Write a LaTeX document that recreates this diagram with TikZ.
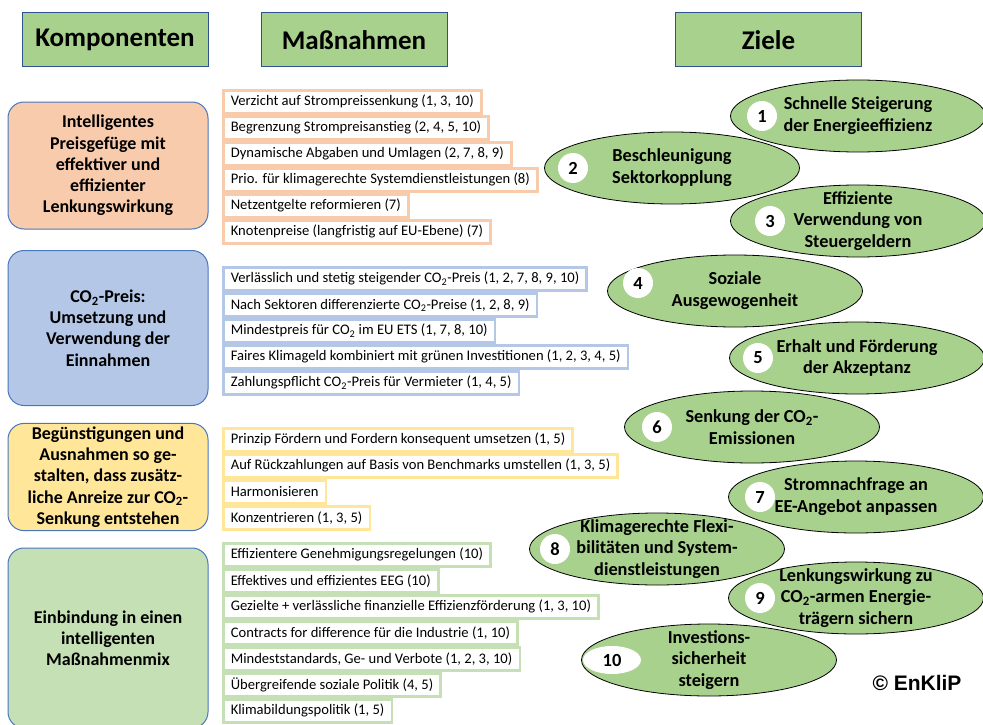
\documentclass[tikz,border=0pt]{standalone}
\usepackage{fontspec}
\setmainfont{Carlito}
\newfontfamily\arialfont{Liberation Sans}
\usetikzlibrary{positioning, shapes.geometric}
\definecolor{hdrgreen}{HTML}{A9D18E}
\definecolor{hdrblue}{HTML}{2F528F}
\definecolor{compblue}{HTML}{4A76BE}
\definecolor{orng}{HTML}{F8CBAD}
\definecolor{lblue}{HTML}{B4C7E7}
\definecolor{yell}{HTML}{FFE699}
\definecolor{lgreen}{HTML}{C5E0B4}
\newcommand{\cotwo}{CO\textsubscript{2}}

\begin{document}
\begin{tikzpicture}[x=1pt, y=-1pt,
  hdr/.style={draw=hdrblue, fill=hdrgreen, line width=1pt, minimum width=186pt,
              minimum height=54pt, font=\fontsize{27}{30}\selectfont\bfseries},
  comp/.style={draw=compblue, rounded corners=16pt, line width=1pt, minimum width=200pt,
               align=center, font=\fontsize{18}{21.2}\selectfont\bfseries},
  mbox/.style={draw=#1, fill=white, line width=2.6pt, outer sep=0pt, anchor=north west,
               minimum height=23pt, inner xsep=7.5pt, inner ysep=0pt,
               font=\fontsize{14.6}{16}\selectfont},
  goal/.style={ellipse, draw, fill=hdrgreen, line width=0.8pt, minimum width=255pt,
               minimum height=72pt, inner sep=0pt},
  goaltxt/.style={align=center, inner sep=0pt, font=\fontsize{18.3}{21.8}\selectfont\bfseries},
  num/.style={circle, fill=white, minimum size=30pt, inner sep=0pt,
              font=\fontsize{18.5}{20}\selectfont\bfseries},
  node distance=3pt]
  \useasboundingbox (0,0) rectangle (983,725);

  % header row
  \node[hdr] (hkomp) at (115,40) {Komponenten};
  \node[hdr] (hmass) at (354,40) {Maßnahmen};
  \node[hdr] (hziel) at (768.5,40) {Ziele};

  % components
  \node[comp, fill=orng, minimum height=127pt] (k1) at (108,165.5)
    {Intelligentes\\Preisgefüge mit\\effektiver und\\effizienter\\Lenkungswirkung};
  \node[comp, fill=lblue, minimum height=155pt] (k2) at (108,328)
    {\cotwo-Preis:\\Umsetzung und\\Verwendung der\\Einnahmen};
  \node[comp, fill=yell, minimum height=107pt] (k3) at (108,477)
    {Begünstigungen und\\Ausnahmen so ge-\\stalten, dass zusätz-\\liche Anreize zur \cotwo-\\Senkung entstehen};
  \node[comp, fill=lgreen, minimum height=180pt] (k4) at (108,638)
    {Einbindung in einen\\intelligenten\\Maßnahmenmix};

  % measures: price structure
  \node[mbox=orng] (m11) at (223.3,90.3) {Verzicht auf Strompreissenkung (1, 3, 10)};
  \node[mbox=orng, below=of m11.south west, anchor=north west] (m12) {Begrenzung Strompreisanstieg (2, 4, 5, 10)};
  \node[mbox=orng, below=of m12.south west, anchor=north west] (m13) {Dynamische Abgaben und Umlagen (2, 7, 8, 9)};
  \node[mbox=orng, below=of m13.south west, anchor=north west] (m14) {Prio. für klimagerechte Systemdienstleistungen (8)};
  \node[mbox=orng, below=of m14.south west, anchor=north west] (m15) {Netzentgelte reformieren (7)};
  \node[mbox=orng, below=of m15.south west, anchor=north west] (m16) {Knotenpreise (langfristig auf EU-Ebene) (7)};

  % measures: CO2 price
  \node[mbox=lblue] (m21) at (223.3,267.3) {Verlässlich und stetig steigender \cotwo-Preis (1, 2, 7, 8, 9, 10)};
  \node[mbox=lblue, below=of m21.south west, anchor=north west] (m22) {Nach Sektoren differenzierte \cotwo-Preise (1, 2, 8, 9)};
  \node[mbox=lblue, below=of m22.south west, anchor=north west] (m23) {Mindestpreis für \cotwo{} im EU ETS (1, 7, 8, 10)};
  \node[mbox=lblue, below=of m23.south west, anchor=north west] (m24) {Faires Klimageld kombiniert mit grünen Investitionen (1, 2, 3, 4, 5)};
  \node[mbox=lblue, below=of m24.south west, anchor=north west] (m25) {Zahlungspflicht \cotwo-Preis für Vermieter (1, 4, 5)};

  % measures: exemptions
  \node[mbox=yell] (m31) at (223.3,428.3) {Prinzip Fördern und Fordern konsequent umsetzen (1, 5)};
  \node[mbox=yell, below=of m31.south west, anchor=north west] (m32) {Auf Rückzahlungen auf Basis von Benchmarks umstellen (1, 3, 5)};
  \node[mbox=yell, below=of m32.south west, anchor=north west] (m33) {Harmonisieren};
  \node[mbox=yell, below=of m33.south west, anchor=north west] (m34) {Konzentrieren (1, 3, 5)};

  % measures: policy mix
  \node[mbox=lgreen] (m41) at (223.3,543.3) {Effizientere Genehmigungsregelungen (10)};
  \node[mbox=lgreen, below=of m41.south west, anchor=north west] (m42) {Effektives und effizientes EEG (10)};
  \node[mbox=lgreen, below=of m42.south west, anchor=north west] (m43) {Gezielte + verlässliche finanzielle Effizienzförderung (1, 3, 10)};
  \node[mbox=lgreen, below=of m43.south west, anchor=north west] (m44) {Contracts for difference für die Industrie (1, 10)};
  \node[mbox=lgreen, below=of m44.south west, anchor=north west] (m45) {Mindeststandards, Ge- und Verbote (1, 2, 3, 10)};
  \node[mbox=lgreen, below=of m45.south west, anchor=north west] (m46) {Übergreifende soziale Politik (4, 5)};
  \node[mbox=lgreen, below=of m46.south west, anchor=north west] (m47) {Klimabildungspolitik (1, 5)};

  % goals
  \node[goal] (z1) at (858,116) {};
  \node[goaltxt] (t1) at (z1) {Schnelle Steigerung\\der Energieeffizienz};
  \node[num] (n1) at ([xshift=-96pt]z1.center) {1};
  \node[goal] (z2) at (672,168) {};
  \node[goaltxt] (t2) at (z2) {Beschleunigung\\Sektorkopplung};
  \node[num] (n2) at ([xshift=-99pt]z2.center) {2};
  \node[goal] (z3) at (858,221) {};
  \node[goaltxt] (t3) at (z3) {Effiziente\\Verwendung von\\Steuergeldern};
  \node[num] (n3) at ([xshift=-88pt]z3.center) {3};
  \node[goal] (z4) at (735,291) {};
  \node[goaltxt] (t4) at (z4) {Soziale\\Ausgewogenheit};
  \node[num] (n4) at ([xshift=-97pt, yshift=8pt]z4.center) {4};
  \node[goal] (z5) at (857,358) {};
  \node[goaltxt] (t5) at (z5) {Erhalt und Förderung\\der Akzeptanz};
  \node[num] (n5) at ([xshift=-99pt]z5.center) {5};
  \node[goal] (z6) at (752,427) {};
  \node[goaltxt] (t6) at (z6) {Senkung der \cotwo-\\Emissionen};
  \node[num] (n6) at ([xshift=-95pt]z6.center) {6};
  \node[goal] (z7) at (856,497) {};
  \node[goaltxt] (t7) at (z7) {Stromnachfrage an\\EE-Angebot anpassen};
  \node[num] (n7) at ([xshift=-96pt]z7.center) {7};
  \node[goal] (z8) at (657,549) {};
  \node[goaltxt] (t8) at (z8) {Klimagerechte Flexi-\\bilitäten und System-\\dienstleistungen};
  \node[num] (n8) at ([xshift=-102pt]z8.center) {8};
  \node[goal] (z9) at (856,598) {};
  \node[goaltxt] (t9) at (z9) {Lenkungswirkung zu\\\cotwo-armen Energie-\\trägern sichern};
  \node[num] (n9) at ([xshift=-96pt]z9.center) {9};
  \node[goal] (z10) at (709,660) {};
  \node[goaltxt] (t10) at (z10) {Investions-\\sicherheit\\steigern};
  \node[num, ellipse, minimum width=58pt, minimum height=28pt] (n10) at ([xshift=-97pt]z10.center) {10};

  \node[font=\fontsize{21}{24}\selectfont\arialfont\bfseries] (copy) at (917,683) {© EnKliP};
\end{tikzpicture}
\end{document}
